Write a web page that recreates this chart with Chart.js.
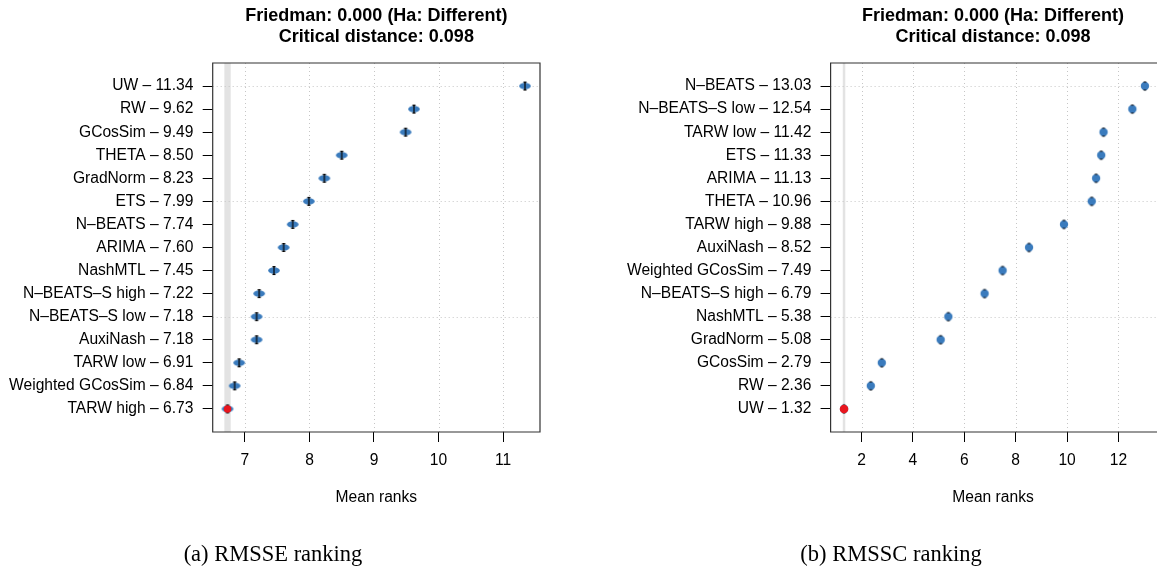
<!DOCTYPE html>
<html><head><meta charset="utf-8">
<script src="https://cdn.jsdelivr.net/npm/chart.js@4.4.1/dist/chart.umd.min.js"></script>
<style>
html,body{margin:0;padding:0;background:#fff;overflow:hidden;width:1157px;height:572px;}
#wrap{position:relative;width:1157px;height:572px;overflow:hidden;background:#fff;}
canvas{position:absolute;top:0;}
#cA{left:0;} #cB{left:580px;}
.cap{position:absolute;top:554px;font-family:"Liberation Serif","Times New Roman",serif;font-size:22.5px;color:#000;transform:translate(-50%,-50%);white-space:nowrap;}
</style></head><body>
<div id="wrap">
<canvas id="cA" width="580" height="572"></canvas>
<canvas id="cB" width="620" height="572"></canvas>
<div class="cap" style="left:273px">(a) RMSSE ranking</div>
<div class="cap" style="left:891px">(b) RMSSC ranking</div>
</div>
<script>
// ---- data ----
const methodsA = ["UW","RW","GCosSim","THETA","GradNorm","ETS","N–BEATS","ARIMA","NashMTL","N–BEATS–S high","N–BEATS–S low","AuxiNash","TARW low","Weighted GCosSim","TARW high"];
const meanRanksA = [11.34,9.62,9.49,8.50,8.23,7.99,7.74,7.60,7.45,7.22,7.18,7.18,6.91,6.84,6.73];
const methodsB = ["N–BEATS","N–BEATS–S low","TARW low","ETS","ARIMA","THETA","TARW high","AuxiNash","Weighted GCosSim","N–BEATS–S high","NashMTL","GradNorm","GCosSim","RW","UW"];
const meanRanksB = [13.03,12.54,11.42,11.33,11.13,10.96,9.88,8.52,7.49,6.79,5.38,5.08,2.79,2.36,1.32];
const xTicksA = [7,8,9,10,11];
const xTicksB = [2,4,6,8,10,12];
const friedmanP = "0.000";
const criticalDistance = 0.098;
const xLabel = "Mean ranks";

// ---- style ----
const BLUE = "#3a7bbd", RED = "#e8161e";
const FONT = '"Liberation Sans", Arial, Helvetica, sans-serif';

function ellipseMarker(){
  const c = document.createElement('canvas'); c.width = 14; c.height = 11;
  const g = c.getContext('2d');
  g.fillStyle = BLUE; g.beginPath(); g.ellipse(7,5.5,5.8,3.3,0,0,Math.PI*2); g.fill();
  g.strokeStyle = '#000'; g.lineWidth = 1.2; g.beginPath();
  g.moveTo(7,1.5); g.lineTo(7,9.5);
  g.moveTo(5.5,1.6); g.lineTo(8.5,1.6);
  g.moveTo(5.5,9.4); g.lineTo(8.5,9.4);
  g.stroke();
  return c;
}
function dotMarker(){
  const c = document.createElement('canvas'); c.width = 12; c.height = 12;
  const g = c.getContext('2d');
  g.fillStyle = BLUE; g.beginPath(); g.arc(6,6,4.2,0,Math.PI*2); g.fill();
  g.strokeStyle = '#111'; g.lineWidth = 1; g.beginPath();
  g.moveTo(4.6,2.0); g.lineTo(7.4,2.0);
  g.moveTo(4.6,10.0); g.lineTo(7.4,10.0);
  g.stroke();
  return c;
}

const decor = {
  id: 'decor',
  beforeDatasetsDraw(chart, args, o){
    const {ctx, chartArea:a, scales:{x,y}} = chart;
    ctx.save();
    const b0 = x.getPixelForValue(o.best - o.cd/2), b1 = x.getPixelForValue(o.best + o.cd/2);
    ctx.fillStyle = '#e3e3e3';
    ctx.fillRect(b0, a.top, b1 - b0, a.bottom - a.top);
    ctx.strokeStyle = '#c6c6c6'; ctx.lineWidth = 1; ctx.setLineDash([1,3]);
    o.xTicks.forEach(v => {
      const px = Math.round(x.getPixelForValue(v)) + 0.5;
      ctx.beginPath(); ctx.moveTo(px, a.top); ctx.lineTo(px, a.bottom); ctx.stroke();
    });
    o.gridRows.forEach(r => {
      const py = Math.round(y.getPixelForValue(r)) + 0.5;
      ctx.beginPath(); ctx.moveTo(a.left, py); ctx.lineTo(a.right, py); ctx.stroke();
    });
    ctx.restore();
  },
  afterDraw(chart, args, o){
    const {ctx, chartArea:a} = chart;
    ctx.save();
    ctx.strokeStyle = '#333'; ctx.lineWidth = 1.2; ctx.setLineDash([]);
    ctx.beginPath();
    if (o.fullBox){
      ctx.rect(a.left, a.top, a.right - a.left, a.bottom - a.top);
    } else {
      ctx.moveTo(a.right + 5, a.top); ctx.lineTo(a.left, a.top);
      ctx.lineTo(a.left, a.bottom); ctx.lineTo(a.right + 5, a.bottom);
    }
    ctx.stroke();
    const cx = o.centerX != null ? o.centerX : (a.left + a.right) / 2;
    ctx.fillStyle = '#000'; ctx.textAlign = 'center'; ctx.textBaseline = 'middle';
    ctx.font = 'bold 18px ' + FONT;
    ctx.fillText(o.title[0], cx, 16);
    ctx.fillText(o.title[1], cx, 37);
    ctx.font = '15.6px ' + FONT;
    ctx.fillText(xLabel, cx, 498);
    ctx.restore();
  }
};

function makeChart(id, methods, ranks, xTicks, xmin, xmax, yWidth, padRight, marker, bestRadius, fullBox, centerX){
  const n = methods.length;
  const rowOf = i => n - i;
  let bi = 0; ranks.forEach((v,i) => { if (v < ranks[bi]) bi = i; });
  const rows = methods.map((m,i) => rowOf(i));
  const gridRows = rows.filter((r,i) => i % 5 === 0);
  const title = ["Friedman: " + friedmanP + " (Ha: Different)", "Critical distance: " + criticalDistance.toFixed(3)];
  return new Chart(document.getElementById(id), {
    type: 'scatter',
    data: { datasets: [
      { data: [{x: ranks[bi], y: rowOf(bi)}], order: 0, pointStyle: 'circle', pointRadius: bestRadius, pointHoverRadius: bestRadius, backgroundColor: RED, borderWidth: 0 },
      { data: ranks.map((v,i) => ({x:v, y:rowOf(i)})), order: 1, pointStyle: marker, pointRadius: 5, pointHoverRadius: 5, showLine:false }
    ]},
    options: {
      responsive: false, animation: false, devicePixelRatio: 1, events: [],
      layout: { padding: { top: 63, bottom: 100, left: 0, right: padRight } },
      plugins: {
        legend: { display: false }, tooltip: { enabled: false }, title: { display: false },
        decor: { best: ranks[bi], cd: criticalDistance, xTicks, gridRows, title, fullBox, centerX }
      },
      scales: {
        x: {
          type: 'linear', position: 'bottom', min: xmin, max: xmax, bounds: 'data',
          afterBuildTicks: s => { s.ticks = xTicks.map(v => ({value: v})); },
          afterFit: s => { s.height = 40; },
          grid: { drawOnChartArea: false, drawTicks: true, tickLength: 10, tickColor: '#000', tickWidth: 1 },
          border: { display: false },
          ticks: { autoSkip: false, maxRotation: 0, padding: 9.5, color: '#000', font: { family: FONT, size: 15.6 } }
        },
        y: {
          type: 'linear', position: 'left', min: 0, max: n + 1, bounds: 'data',
          afterBuildTicks: s => { s.ticks = rows.map(v => ({value: v})); },
          afterFit: s => { s.width = yWidth; },
          grid: { drawOnChartArea: false, drawTicks: true, tickLength: 10, tickColor: '#000', tickWidth: 1 },
          border: { display: false },
          ticks: { autoSkip: false, padding: 9.3, color: '#000', font: { family: FONT, size: 15.6 },
            callback: v => { const i = n - v; return methods[i] + " – " + ranks[i].toFixed(2); } }
        }
      }
    },
    plugins: [decor]
  });
}

makeChart('cA', methodsA, meanRanksA, xTicksA, 6.50, 11.573, 212.7, 40, ellipseMarker(), 3.8, true, null);
makeChart('cB', methodsB, meanRanksB, xTicksB, 0.797, 13.50, 250.6, 43, dotMarker(), 4.3, false, 413);
</script>
</body></html>
